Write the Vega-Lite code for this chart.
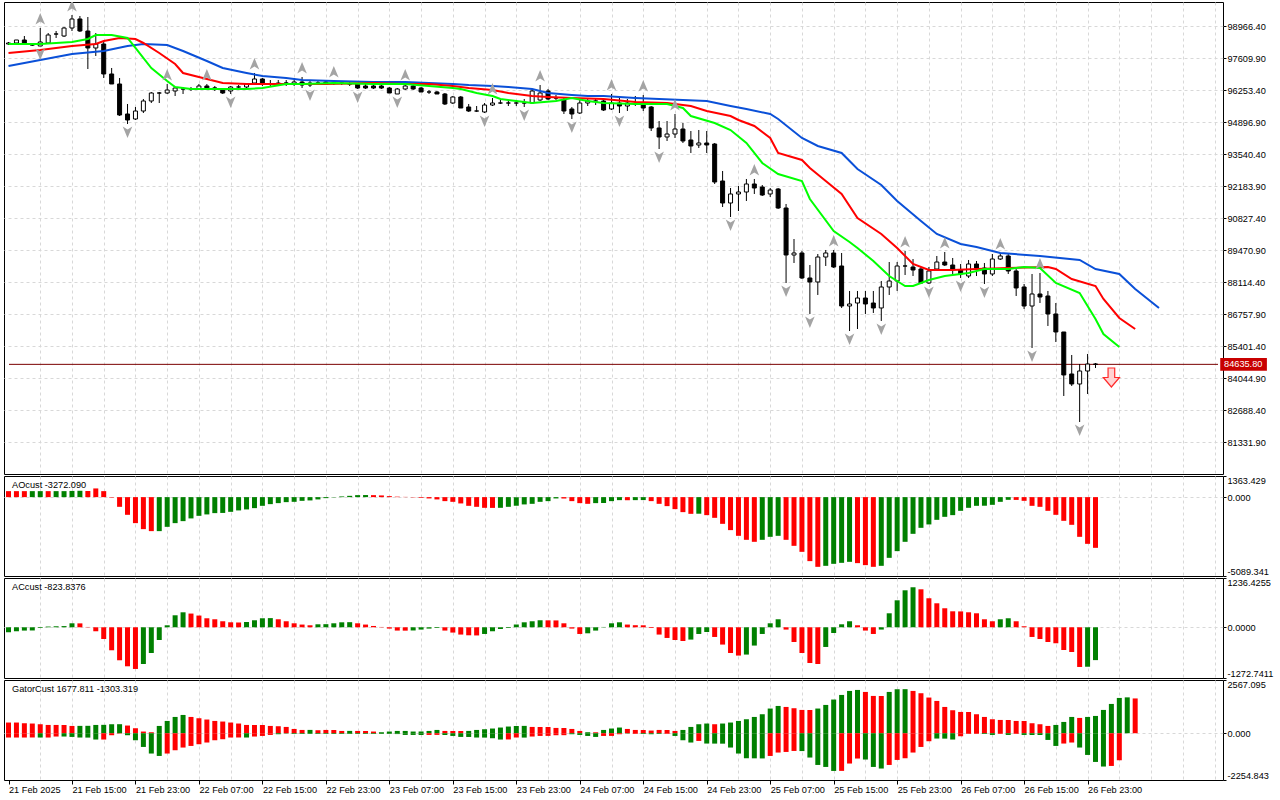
{
  "$schema": "https://vega.github.io/schema/vega-lite/v6.json",
  "background": "#ffffff",
  "padding": {"left": 3, "top": 1, "right": 0, "bottom": 0},
  "spacing": 2,
  "bounds": "flush",
  "resolve": {"scale": {"x": "independent", "y": "independent", "color": "independent"}},
  "datasets": {
    "candles": [
      {"k":0,"o":98215,"h":98300,"l":98173,"c":98258},{"k":1,"o":98258,"h":98385,"l":98215,"c":98385},
      {"k":2,"o":98385,"h":98554,"l":98215,"c":98215},{"k":3,"o":98173,"h":98215,"l":98130,"c":98173},
      {"k":4,"o":98130,"h":98893,"l":98130,"c":98300},{"k":5,"o":98258,"h":98681,"l":98215,"c":98597},
      {"k":6,"o":98639,"h":98766,"l":98470,"c":98639},{"k":7,"o":98554,"h":98936,"l":98512,"c":98893},
      {"k":8,"o":98893,"h":99444,"l":98766,"c":99275},{"k":9,"o":99275,"h":99402,"l":98724,"c":98766},
      {"k":10,"o":98766,"h":99360,"l":97155,"c":98046},{"k":11,"o":98046,"h":98681,"l":97707,"c":98215},
      {"k":12,"o":98215,"h":98342,"l":96774,"c":96944},{"k":13,"o":96944,"h":97198,"l":96520,"c":96520},
      {"k":14,"o":96520,"h":96774,"l":95163,"c":95206},{"k":15,"o":95248,"h":95672,"l":94824,"c":94994},
      {"k":16,"o":95036,"h":95545,"l":94994,"c":95375},{"k":17,"o":95375,"h":95884,"l":95290,"c":95799},
      {"k":18,"o":95799,"h":96181,"l":95714,"c":96138},{"k":19,"o":96138,"h":96181,"l":95714,"c":96138},
      {"k":20,"o":96138,"h":96520,"l":96096,"c":96265},{"k":21,"o":96223,"h":96393,"l":96011,"c":96350},
      {"k":22,"o":96308,"h":96393,"l":96096,"c":96308},{"k":23,"o":96308,"h":96393,"l":96223,"c":96308},
      {"k":24,"o":96308,"h":96520,"l":96265,"c":96435},{"k":25,"o":96435,"h":96520,"l":96265,"c":96308},
      {"k":26,"o":96350,"h":96435,"l":96223,"c":96350},{"k":27,"o":96308,"h":96350,"l":96096,"c":96138},
      {"k":28,"o":96223,"h":96435,"l":96096,"c":96393},{"k":29,"o":96393,"h":96477,"l":96350,"c":96393},
      {"k":30,"o":96393,"h":96562,"l":96350,"c":96520},{"k":31,"o":96562,"h":96986,"l":96520,"c":96732},
      {"k":32,"o":96732,"h":96774,"l":96435,"c":96520},{"k":33,"o":96520,"h":96689,"l":96393,"c":96520},
      {"k":34,"o":96520,"h":96689,"l":96435,"c":96562},{"k":35,"o":96562,"h":96689,"l":96435,"c":96562},
      {"k":36,"o":96520,"h":96689,"l":96435,"c":96605},{"k":37,"o":96605,"h":96816,"l":96350,"c":96477},
      {"k":38,"o":96477,"h":96689,"l":96393,"c":96562},{"k":39,"o":96562,"h":96647,"l":96477,"c":96562},
      {"k":40,"o":96605,"h":96647,"l":96477,"c":96562},{"k":41,"o":96562,"h":96647,"l":96477,"c":96562},
      {"k":42,"o":96562,"h":96647,"l":96477,"c":96562},{"k":43,"o":96520,"h":96605,"l":96435,"c":96520},
      {"k":44,"o":96520,"h":96540,"l":96308,"c":96350},{"k":45,"o":96435,"h":96520,"l":96308,"c":96350},
      {"k":46,"o":96435,"h":96477,"l":96308,"c":96350},{"k":47,"o":96435,"h":96477,"l":96308,"c":96350},
      {"k":48,"o":96350,"h":96393,"l":96138,"c":96138},{"k":49,"o":96096,"h":96350,"l":96096,"c":96308},
      {"k":50,"o":96308,"h":96520,"l":96265,"c":96435},{"k":51,"o":96435,"h":96520,"l":96265,"c":96308},
      {"k":52,"o":96350,"h":96393,"l":96181,"c":96181},{"k":53,"o":96181,"h":96265,"l":96096,"c":96181},
      {"k":54,"o":96181,"h":96223,"l":96096,"c":96096},{"k":55,"o":96096,"h":96138,"l":95629,"c":95672},
      {"k":56,"o":95714,"h":96011,"l":95672,"c":95969},{"k":57,"o":95969,"h":96011,"l":95502,"c":95502},
      {"k":58,"o":95545,"h":95672,"l":95333,"c":95375},{"k":59,"o":95375,"h":95587,"l":95333,"c":95375},
      {"k":60,"o":95333,"h":95714,"l":95290,"c":95629},{"k":61,"o":95629,"h":95926,"l":95587,"c":95714},
      {"k":62,"o":95714,"h":95841,"l":95672,"c":95714},{"k":63,"o":95714,"h":95799,"l":95587,"c":95714},
      {"k":64,"o":95714,"h":95799,"l":95587,"c":95714},{"k":65,"o":95714,"h":95884,"l":95545,"c":95714},
      {"k":66,"o":95714,"h":96308,"l":95672,"c":96223},{"k":67,"o":95841,"h":96477,"l":95799,"c":96138},
      {"k":68,"o":96223,"h":96308,"l":95841,"c":95884},{"k":69,"o":95926,"h":96053,"l":95841,"c":95926},
      {"k":70,"o":95841,"h":95926,"l":95248,"c":95375},{"k":71,"o":95460,"h":95545,"l":95036,"c":95248},
      {"k":72,"o":95290,"h":95926,"l":95248,"c":95714},{"k":73,"o":95714,"h":95884,"l":95587,"c":95799},
      {"k":74,"o":95799,"h":95884,"l":95629,"c":95799},{"k":75,"o":95799,"h":95884,"l":95375,"c":95417},
      {"k":76,"o":95460,"h":96096,"l":95417,"c":95714},{"k":77,"o":95714,"h":95926,"l":95290,"c":95587},
      {"k":78,"o":95587,"h":95884,"l":95375,"c":95714},{"k":79,"o":95672,"h":96011,"l":95587,"c":95672},
      {"k":80,"o":95714,"h":96053,"l":95375,"c":95502},{"k":81,"o":95545,"h":95587,"l":94527,"c":94655},
      {"k":82,"o":94655,"h":94951,"l":93764,"c":94273},{"k":83,"o":94273,"h":94951,"l":94104,"c":94400},
      {"k":84,"o":94400,"h":95248,"l":94231,"c":94612},{"k":85,"o":94612,"h":94866,"l":94019,"c":94104},
      {"k":86,"o":94146,"h":94527,"l":93595,"c":93891},{"k":87,"o":93934,"h":94570,"l":93807,"c":94019},
      {"k":88,"o":94019,"h":94527,"l":93595,"c":93934},{"k":89,"o":93976,"h":94019,"l":92281,"c":92366},
      {"k":90,"o":92408,"h":92832,"l":91305,"c":91475},{"k":91,"o":91475,"h":92111,"l":90882,"c":91857},
      {"k":92,"o":91857,"h":92196,"l":91136,"c":91941},{"k":93,"o":91941,"h":92493,"l":91560,"c":92281},
      {"k":94,"o":92281,"h":92493,"l":91857,"c":92111},{"k":95,"o":92153,"h":92238,"l":91772,"c":91814},
      {"k":96,"o":91857,"h":92111,"l":91730,"c":92026},{"k":97,"o":92069,"h":92111,"l":91221,"c":91263},
      {"k":98,"o":91263,"h":91433,"l":88084,"c":89271},{"k":99,"o":89271,"h":89949,"l":88932,"c":89356},
      {"k":100,"o":89356,"h":89441,"l":88254,"c":88296},{"k":101,"o":88296,"h":88847,"l":86771,"c":88127},
      {"k":102,"o":88127,"h":89313,"l":87576,"c":89186},{"k":103,"o":89186,"h":89483,"l":88805,"c":89356},
      {"k":104,"o":89356,"h":89483,"l":88720,"c":88762},{"k":105,"o":88805,"h":89356,"l":87025,"c":87109},
      {"k":106,"o":87109,"h":87746,"l":86049,"c":87194},{"k":107,"o":87236,"h":87746,"l":86134,"c":87448},
      {"k":108,"o":87448,"h":87746,"l":86771,"c":87194},{"k":109,"o":87236,"h":87746,"l":86813,"c":87025},
      {"k":110,"o":87025,"h":88169,"l":86474,"c":87915},{"k":111,"o":87915,"h":88974,"l":87576,"c":88169},
      {"k":112,"o":88169,"h":88974,"l":87746,"c":88805},{"k":113,"o":88805,"h":89441,"l":88423,"c":88805},
      {"k":114,"o":88762,"h":89101,"l":88381,"c":88635},{"k":115,"o":88677,"h":88762,"l":88042,"c":88084},
      {"k":116,"o":88084,"h":88762,"l":88042,"c":88593},{"k":117,"o":88677,"h":89229,"l":88593,"c":88974},
      {"k":118,"o":88974,"h":89399,"l":88805,"c":88847},{"k":119,"o":88847,"h":89144,"l":88466,"c":88677},
      {"k":120,"o":88635,"h":88890,"l":88296,"c":88466},{"k":121,"o":88381,"h":89059,"l":88296,"c":88890},
      {"k":122,"o":88890,"h":89017,"l":88381,"c":88720},{"k":123,"o":88720,"h":88932,"l":88042,"c":88466},
      {"k":124,"o":88466,"h":89313,"l":88381,"c":89101},{"k":125,"o":89101,"h":89356,"l":89059,"c":89229},
      {"k":126,"o":89229,"h":89313,"l":88466,"c":88593},{"k":127,"o":88593,"h":88677,"l":87533,"c":87873},
      {"k":128,"o":87915,"h":88042,"l":86982,"c":87109},{"k":129,"o":87109,"h":88466,"l":85329,"c":87618},
      {"k":130,"o":87618,"h":88508,"l":87236,"c":87491},{"k":131,"o":87533,"h":87746,"l":86262,"c":86771},
      {"k":132,"o":86771,"h":87236,"l":85583,"c":86007},{"k":133,"o":86007,"h":86007,"l":83294,"c":84185},
      {"k":134,"o":84227,"h":85032,"l":83718,"c":83803},{"k":135,"o":83803,"h":84650,"l":82192,"c":84354},
      {"k":136,"o":84354,"h":85075,"l":83379,"c":84650},{"k":137,"o":84650,"h":84693,"l":84481,"c":84636}
    ],
    "alligator": [
      {"k":0,"s":"jaw","v":97283},{"k":4,"s":"jaw","v":97537},{"k":8,"s":"jaw","v":97791},{"k":12,"s":"jaw","v":97918},
      {"k":15,"s":"jaw","v":98130},{"k":17,"s":"jaw","v":98215},{"k":20,"s":"jaw","v":98173},{"k":22,"s":"jaw","v":97918},
      {"k":25,"s":"jaw","v":97495},{"k":27,"s":"jaw","v":97198},{"k":30,"s":"jaw","v":96986},{"k":32,"s":"jaw","v":96859},
      {"k":35,"s":"jaw","v":96774},{"k":37,"s":"jaw","v":96689},{"k":41,"s":"jaw","v":96647},{"k":46,"s":"jaw","v":96605},
      {"k":50,"s":"jaw","v":96605},{"k":53,"s":"jaw","v":96562},{"k":56,"s":"jaw","v":96520},{"k":58,"s":"jaw","v":96477},
      {"k":61,"s":"jaw","v":96435},{"k":63,"s":"jaw","v":96393},{"k":66,"s":"jaw","v":96308},{"k":68,"s":"jaw","v":96138},
      {"k":71,"s":"jaw","v":96053},{"k":73,"s":"jaw","v":96011},{"k":75,"s":"jaw","v":96011},{"k":79,"s":"jaw","v":95926},
      {"k":85,"s":"jaw","v":95841},{"k":88,"s":"jaw","v":95799},{"k":91,"s":"jaw","v":95587},{"k":93,"s":"jaw","v":95460},
      {"k":96,"s":"jaw","v":95248},{"k":97,"s":"jaw","v":95036},{"k":100,"s":"jaw","v":94231},{"k":102,"s":"jaw","v":93891},
      {"k":105,"s":"jaw","v":93595},{"k":107,"s":"jaw","v":92917},{"k":110,"s":"jaw","v":92238},{"k":112,"s":"jaw","v":91560},
      {"k":115,"s":"jaw","v":90712},{"k":117,"s":"jaw","v":90161},{"k":120,"s":"jaw","v":89737},{"k":122,"s":"jaw","v":89610},
      {"k":125,"s":"jaw","v":89356},{"k":130,"s":"jaw","v":89229},{"k":135,"s":"jaw","v":89059},{"k":137,"s":"jaw","v":88677},
      {"k":140,"s":"jaw","v":88466},{"k":142,"s":"jaw","v":87830},{"k":145,"s":"jaw","v":87025},
      {"k":0,"s":"teeth","v":97834},{"k":4,"s":"teeth","v":97961},{"k":8,"s":"teeth","v":98130},{"k":11,"s":"teeth","v":98215},
      {"k":12,"s":"teeth","v":98342},{"k":14,"s":"teeth","v":98470},{"k":16,"s":"teeth","v":98427},{"k":17,"s":"teeth","v":98258},
      {"k":19,"s":"teeth","v":97834},{"k":21,"s":"teeth","v":97367},{"k":22,"s":"teeth","v":96986},{"k":25,"s":"teeth","v":96732},
      {"k":27,"s":"teeth","v":96562},{"k":30,"s":"teeth","v":96520},{"k":35,"s":"teeth","v":96520},{"k":40,"s":"teeth","v":96520},
      {"k":46,"s":"teeth","v":96562},{"k":50,"s":"teeth","v":96520},{"k":53,"s":"teeth","v":96520},{"k":56,"s":"teeth","v":96435},
      {"k":58,"s":"teeth","v":96350},{"k":61,"s":"teeth","v":96265},{"k":63,"s":"teeth","v":96138},{"k":66,"s":"teeth","v":96011},
      {"k":68,"s":"teeth","v":95969},{"k":71,"s":"teeth","v":95926},{"k":75,"s":"teeth","v":95884},{"k":79,"s":"teeth","v":95757},
      {"k":83,"s":"teeth","v":95714},{"k":86,"s":"teeth","v":95587},{"k":88,"s":"teeth","v":95375},{"k":91,"s":"teeth","v":95163},
      {"k":92,"s":"teeth","v":94994},{"k":94,"s":"teeth","v":94739},{"k":96,"s":"teeth","v":94231},{"k":97,"s":"teeth","v":93595},
      {"k":100,"s":"teeth","v":93298},{"k":101,"s":"teeth","v":92959},{"k":103,"s":"teeth","v":92408},{"k":105,"s":"teeth","v":91857},
      {"k":107,"s":"teeth","v":90839},{"k":110,"s":"teeth","v":90161},{"k":112,"s":"teeth","v":89568},{"k":114,"s":"teeth","v":88890},
      {"k":116,"s":"teeth","v":88635},{"k":119,"s":"teeth","v":88635},{"k":122,"s":"teeth","v":88677},{"k":126,"s":"teeth","v":88720},
      {"k":131,"s":"teeth","v":88762},{"k":132,"s":"teeth","v":88677},{"k":134,"s":"teeth","v":88254},{"k":137,"s":"teeth","v":87957},
      {"k":138,"s":"teeth","v":87406},{"k":140,"s":"teeth","v":86601},{"k":142,"s":"teeth","v":86134},
      {"k":0,"s":"lips","v":98215},{"k":4,"s":"lips","v":98215},{"k":8,"s":"lips","v":98300},{"k":10,"s":"lips","v":98427},
      {"k":11,"s":"lips","v":98597},{"k":13,"s":"lips","v":98597},{"k":15,"s":"lips","v":98470},{"k":16,"s":"lips","v":98046},
      {"k":18,"s":"lips","v":97198},{"k":20,"s":"lips","v":96647},{"k":21,"s":"lips","v":96393},{"k":23,"s":"lips","v":96308},
      {"k":26,"s":"lips","v":96308},{"k":30,"s":"lips","v":96308},{"k":32,"s":"lips","v":96350},{"k":35,"s":"lips","v":96520},
      {"k":37,"s":"lips","v":96520},{"k":41,"s":"lips","v":96562},{"k":46,"s":"lips","v":96520},{"k":50,"s":"lips","v":96520},
      {"k":53,"s":"lips","v":96435},{"k":56,"s":"lips","v":96350},{"k":57,"s":"lips","v":96308},{"k":59,"s":"lips","v":96138},
      {"k":61,"s":"lips","v":96011},{"k":62,"s":"lips","v":95884},{"k":64,"s":"lips","v":95799},{"k":66,"s":"lips","v":95714},
      {"k":69,"s":"lips","v":95799},{"k":71,"s":"lips","v":95926},{"k":73,"s":"lips","v":95799},{"k":75,"s":"lips","v":95714},
      {"k":79,"s":"lips","v":95672},{"k":83,"s":"lips","v":95672},{"k":85,"s":"lips","v":95502},{"k":86,"s":"lips","v":95163},
      {"k":89,"s":"lips","v":94866},{"k":91,"s":"lips","v":94570},{"k":93,"s":"lips","v":94019},{"k":95,"s":"lips","v":93171},
      {"k":97,"s":"lips","v":92705},{"k":100,"s":"lips","v":92408},{"k":101,"s":"lips","v":91645},{"k":104,"s":"lips","v":90288},
      {"k":106,"s":"lips","v":89822},{"k":107,"s":"lips","v":89568},{"k":109,"s":"lips","v":89017},{"k":111,"s":"lips","v":88381},
      {"k":113,"s":"lips","v":87957},{"k":114,"s":"lips","v":87957},{"k":116,"s":"lips","v":88211},{"k":118,"s":"lips","v":88381},
      {"k":121,"s":"lips","v":88508},{"k":123,"s":"lips","v":88677},{"k":126,"s":"lips","v":88677},{"k":128,"s":"lips","v":88762},
      {"k":130,"s":"lips","v":88720},{"k":132,"s":"lips","v":88084},{"k":135,"s":"lips","v":87661},{"k":137,"s":"lips","v":86558},
      {"k":138,"s":"lips","v":85922},{"k":140,"s":"lips","v":85371}
    ],
    "fractals": [
      {"k":4,"d":"up","v":98893},{"k":8,"d":"up","v":99444},{"k":20,"d":"up","v":96520},{"k":25,"d":"up","v":96520},
      {"k":31,"d":"up","v":96986},{"k":37,"d":"up","v":96816},{"k":41,"d":"up","v":96647},{"k":50,"d":"up","v":96520},
      {"k":61,"d":"up","v":95926},{"k":67,"d":"up","v":96477},{"k":76,"d":"up","v":96096},{"k":80,"d":"up","v":96053},
      {"k":84,"d":"up","v":95248},{"k":94,"d":"up","v":92493},{"k":104,"d":"up","v":89483},{"k":113,"d":"up","v":89441},
      {"k":118,"d":"up","v":89399},{"k":125,"d":"up","v":89356},{"k":130,"d":"up","v":88508},
      {"k":4,"d":"down","v":98130},{"k":15,"d":"down","v":94824},{"k":28,"d":"down","v":96096},{"k":38,"d":"down","v":96393},
      {"k":44,"d":"down","v":96308},{"k":49,"d":"down","v":96096},{"k":60,"d":"down","v":95290},{"k":65,"d":"down","v":95545},
      {"k":71,"d":"down","v":95036},{"k":77,"d":"down","v":95290},{"k":82,"d":"down","v":93764},{"k":91,"d":"down","v":90882},
      {"k":98,"d":"down","v":88084},{"k":101,"d":"down","v":86771},{"k":106,"d":"down","v":86049},{"k":110,"d":"down","v":86474},
      {"k":116,"d":"down","v":88042},{"k":120,"d":"down","v":88296},{"k":123,"d":"down","v":88042},{"k":129,"d":"down","v":85329},
      {"k":135,"d":"down","v":82192}
    ],
    "ao": [
      {"k":0,"v":387,"d":"down"},{"k":1,"v":387,"d":"down"},{"k":2,"v":387,"d":"down"},{"k":3,"v":387,"d":"up"},
      {"k":4,"v":387,"d":"up"},{"k":5,"v":387,"d":"down"},{"k":6,"v":387,"d":"up"},{"k":7,"v":387,"d":"up"},
      {"k":8,"v":400,"d":"up"},{"k":9,"v":410,"d":"up"},{"k":10,"v":395,"d":"down"},{"k":11,"v":561,"d":"down"},
      {"k":12,"v":387,"d":"down"},{"k":13,"v":-30,"d":"down"},{"k":14,"v":-626,"d":"down"},{"k":15,"v":-1142,"d":"down"},
      {"k":16,"v":-1678,"d":"down"},{"k":17,"v":-2065,"d":"down"},{"k":18,"v":-2194,"d":"down"},{"k":19,"v":-2194,"d":"up"},
      {"k":20,"v":-1917,"d":"up"},{"k":21,"v":-1678,"d":"up"},{"k":22,"v":-1549,"d":"up"},{"k":23,"v":-1374,"d":"up"},
      {"k":24,"v":-1207,"d":"up"},{"k":25,"v":-1116,"d":"up"},{"k":26,"v":-1032,"d":"up"},{"k":27,"v":-1020,"d":"up"},
      {"k":28,"v":-949,"d":"up"},{"k":29,"v":-858,"d":"up"},{"k":30,"v":-794,"d":"up"},{"k":31,"v":-710,"d":"up"},
      {"k":32,"v":-561,"d":"up"},{"k":33,"v":-452,"d":"up"},{"k":34,"v":-387,"d":"up"},{"k":35,"v":-323,"d":"up"},
      {"k":36,"v":-303,"d":"up"},{"k":37,"v":-239,"d":"up"},{"k":38,"v":-213,"d":"up"},{"k":39,"v":-148,"d":"up"},
      {"k":40,"v":-65,"d":"up"},{"k":41,"v":-19,"d":"up"},{"k":42,"v":45,"d":"up"},{"k":43,"v":84,"d":"up"},
      {"k":44,"v":129,"d":"up"},{"k":45,"v":135,"d":"up"},{"k":46,"v":129,"d":"down"},{"k":47,"v":110,"d":"down"},
      {"k":48,"v":65,"d":"down"},{"k":49,"v":30,"d":"down"},{"k":50,"v":15,"d":"down"},{"k":51,"v":-19,"d":"down"},
      {"k":52,"v":-45,"d":"down"},{"k":53,"v":-84,"d":"down"},{"k":54,"v":-148,"d":"down"},{"k":55,"v":-258,"d":"down"},
      {"k":56,"v":-303,"d":"down"},{"k":57,"v":-407,"d":"down"},{"k":58,"v":-561,"d":"down"},{"k":59,"v":-626,"d":"down"},
      {"k":60,"v":-690,"d":"down"},{"k":61,"v":-695,"d":"down"},{"k":62,"v":-690,"d":"up"},{"k":63,"v":-626,"d":"up"},
      {"k":64,"v":-561,"d":"up"},{"k":65,"v":-471,"d":"up"},{"k":66,"v":-432,"d":"up"},{"k":67,"v":-303,"d":"up"},
      {"k":68,"v":-258,"d":"up"},{"k":69,"v":-84,"d":"up"},{"k":70,"v":-90,"d":"down"},{"k":71,"v":-258,"d":"down"},
      {"k":72,"v":-387,"d":"down"},{"k":73,"v":-432,"d":"down"},{"k":74,"v":-387,"d":"up"},{"k":75,"v":-380,"d":"up"},
      {"k":76,"v":-258,"d":"up"},{"k":77,"v":-194,"d":"up"},{"k":78,"v":-200,"d":"down"},{"k":79,"v":-194,"d":"up"},
      {"k":80,"v":-190,"d":"up"},{"k":81,"v":-258,"d":"down"},{"k":82,"v":-432,"d":"down"},{"k":83,"v":-581,"d":"down"},
      {"k":84,"v":-774,"d":"down"},{"k":85,"v":-968,"d":"down"},{"k":86,"v":-1078,"d":"down"},{"k":87,"v":-1070,"d":"up"},
      {"k":88,"v":-1162,"d":"down"},{"k":89,"v":-1336,"d":"down"},{"k":90,"v":-1723,"d":"down"},{"k":91,"v":-2129,"d":"down"},
      {"k":92,"v":-2497,"d":"down"},{"k":93,"v":-2755,"d":"down"},{"k":94,"v":-2884,"d":"down"},{"k":95,"v":-2755,"d":"up"},
      {"k":96,"v":-2562,"d":"up"},{"k":97,"v":-2497,"d":"up"},{"k":98,"v":-2755,"d":"down"},{"k":99,"v":-3143,"d":"down"},
      {"k":100,"v":-3530,"d":"down"},{"k":101,"v":-4130,"d":"down"},{"k":102,"v":-4498,"d":"down"},{"k":103,"v":-4433,"d":"up"},
      {"k":104,"v":-4304,"d":"up"},{"k":105,"v":-4240,"d":"up"},{"k":106,"v":-4175,"d":"up"},{"k":107,"v":-4259,"d":"down"},
      {"k":108,"v":-4388,"d":"down"},{"k":109,"v":-4498,"d":"down"},{"k":110,"v":-4433,"d":"up"},{"k":111,"v":-3917,"d":"up"},
      {"k":112,"v":-3485,"d":"up"},{"k":113,"v":-2884,"d":"up"},{"k":114,"v":-2368,"d":"up"},{"k":115,"v":-1981,"d":"up"},
      {"k":116,"v":-1762,"d":"up"},{"k":117,"v":-1465,"d":"up"},{"k":118,"v":-1271,"d":"up"},{"k":119,"v":-1162,"d":"up"},
      {"k":120,"v":-884,"d":"up"},{"k":121,"v":-690,"d":"up"},{"k":122,"v":-561,"d":"up"},{"k":123,"v":-555,"d":"up"},
      {"k":124,"v":-497,"d":"up"},{"k":125,"v":-303,"d":"up"},{"k":126,"v":-174,"d":"up"},{"k":127,"v":-180,"d":"down"},
      {"k":128,"v":-239,"d":"down"},{"k":129,"v":-561,"d":"down"},{"k":130,"v":-626,"d":"down"},{"k":131,"v":-884,"d":"down"},
      {"k":132,"v":-1142,"d":"down"},{"k":133,"v":-1529,"d":"down"},{"k":134,"v":-1787,"d":"down"},{"k":135,"v":-2562,"d":"down"},
      {"k":136,"v":-3014,"d":"down"},{"k":137,"v":-3272,"d":"down"}
    ],
    "ac": [
      {"k":0,"v":-125,"d":"up"},{"k":1,"v":-100,"d":"up"},{"k":2,"v":-83,"d":"up"},{"k":3,"v":-80,"d":"up"},
      {"k":4,"v":-18,"d":"up"},{"k":5,"v":18,"d":"up"},{"k":6,"v":25,"d":"up"},{"k":7,"v":30,"d":"up"},
      {"k":8,"v":100,"d":"up"},{"k":9,"v":98,"d":"down"},{"k":10,"v":8,"d":"down"},{"k":11,"v":-100,"d":"down"},
      {"k":12,"v":-294,"d":"down"},{"k":13,"v":-577,"d":"down"},{"k":14,"v":-828,"d":"down"},{"k":15,"v":-979,"d":"down"},
      {"k":16,"v":-1046,"d":"down"},{"k":17,"v":-921,"d":"up"},{"k":18,"v":-645,"d":"up"},{"k":19,"v":-319,"d":"up"},
      {"k":20,"v":50,"d":"up"},{"k":21,"v":301,"d":"up"},{"k":22,"v":376,"d":"up"},{"k":23,"v":344,"d":"down"},
      {"k":24,"v":294,"d":"down"},{"k":25,"v":226,"d":"down"},{"k":26,"v":201,"d":"down"},{"k":27,"v":151,"d":"down"},
      {"k":28,"v":125,"d":"down"},{"k":29,"v":120,"d":"down"},{"k":30,"v":133,"d":"up"},{"k":31,"v":176,"d":"up"},
      {"k":32,"v":226,"d":"up"},{"k":33,"v":230,"d":"up"},{"k":34,"v":201,"d":"down"},{"k":35,"v":151,"d":"down"},
      {"k":36,"v":100,"d":"down"},{"k":37,"v":68,"d":"down"},{"k":38,"v":50,"d":"down"},{"k":39,"v":75,"d":"up"},
      {"k":40,"v":78,"d":"up"},{"k":41,"v":100,"d":"up"},{"k":42,"v":125,"d":"up"},{"k":43,"v":128,"d":"up"},
      {"k":44,"v":100,"d":"down"},{"k":45,"v":68,"d":"down"},{"k":46,"v":33,"d":"down"},{"k":47,"v":8,"d":"down"},
      {"k":48,"v":-33,"d":"down"},{"k":49,"v":-83,"d":"down"},{"k":50,"v":-85,"d":"down"},{"k":51,"v":-80,"d":"up"},
      {"k":52,"v":-58,"d":"up"},{"k":53,"v":-33,"d":"up"},{"k":54,"v":-18,"d":"up"},{"k":55,"v":-83,"d":"down"},
      {"k":56,"v":-133,"d":"down"},{"k":57,"v":-183,"d":"down"},{"k":58,"v":-201,"d":"down"},{"k":59,"v":-205,"d":"down"},
      {"k":60,"v":-168,"d":"up"},{"k":61,"v":-100,"d":"up"},{"k":62,"v":-43,"d":"up"},{"k":63,"v":-18,"d":"up"},
      {"k":64,"v":68,"d":"up"},{"k":65,"v":125,"d":"up"},{"k":66,"v":151,"d":"up"},{"k":67,"v":176,"d":"up"},
      {"k":68,"v":174,"d":"down"},{"k":69,"v":172,"d":"down"},{"k":70,"v":100,"d":"down"},{"k":71,"v":-33,"d":"down"},
      {"k":72,"v":-168,"d":"down"},{"k":73,"v":-151,"d":"up"},{"k":74,"v":-83,"d":"up"},{"k":75,"v":8,"d":"up"},
      {"k":76,"v":100,"d":"up"},{"k":77,"v":125,"d":"up"},{"k":78,"v":68,"d":"down"},{"k":79,"v":52,"d":"down"},
      {"k":80,"v":50,"d":"down"},{"k":81,"v":-18,"d":"down"},{"k":82,"v":-183,"d":"down"},{"k":83,"v":-268,"d":"down"},
      {"k":84,"v":-319,"d":"down"},{"k":85,"v":-344,"d":"down"},{"k":86,"v":-309,"d":"up"},{"k":87,"v":-168,"d":"up"},
      {"k":88,"v":-118,"d":"up"},{"k":89,"v":-243,"d":"down"},{"k":90,"v":-434,"d":"down"},{"k":91,"v":-645,"d":"down"},
      {"k":92,"v":-710,"d":"down"},{"k":93,"v":-685,"d":"up"},{"k":94,"v":-459,"d":"up"},{"k":95,"v":-168,"d":"up"},
      {"k":96,"v":100,"d":"up"},{"k":97,"v":201,"d":"up"},{"k":98,"v":-58,"d":"down"},{"k":99,"v":-369,"d":"down"},
      {"k":100,"v":-645,"d":"down"},{"k":101,"v":-896,"d":"down"},{"k":102,"v":-921,"d":"down"},{"k":103,"v":-494,"d":"up"},
      {"k":104,"v":-143,"d":"up"},{"k":105,"v":75,"d":"up"},{"k":106,"v":151,"d":"up"},{"k":107,"v":50,"d":"down"},
      {"k":108,"v":-83,"d":"down"},{"k":109,"v":-168,"d":"down"},{"k":110,"v":-58,"d":"up"},{"k":111,"v":351,"d":"up"},
      {"k":112,"v":677,"d":"up"},{"k":113,"v":928,"d":"up"},{"k":114,"v":1004,"d":"up"},{"k":115,"v":953,"d":"down"},
      {"k":116,"v":728,"d":"down"},{"k":117,"v":602,"d":"down"},{"k":118,"v":477,"d":"down"},{"k":119,"v":401,"d":"down"},
      {"k":120,"v":398,"d":"down"},{"k":121,"v":376,"d":"down"},{"k":122,"v":351,"d":"down"},{"k":123,"v":201,"d":"down"},
      {"k":124,"v":151,"d":"down"},{"k":125,"v":201,"d":"up"},{"k":126,"v":226,"d":"up"},{"k":127,"v":151,"d":"down"},
      {"k":128,"v":25,"d":"down"},{"k":129,"v":-243,"d":"down"},{"k":130,"v":-294,"d":"down"},{"k":131,"v":-369,"d":"down"},
      {"k":132,"v":-401,"d":"down"},{"k":133,"v":-570,"d":"down"},{"k":134,"v":-620,"d":"down"},{"k":135,"v":-996,"d":"down"},
      {"k":136,"v":-990,"d":"up"},{"k":137,"v":-824,"d":"up"}
    ],
    "gator": [
      {"k":0,"v":516,"d":"down"},{"k":0,"v":-207,"d":"down"},{"k":1,"v":516,"d":"down"},{"k":1,"v":-207,"d":"down"},
      {"k":2,"v":482,"d":"down"},{"k":2,"v":-207,"d":"down"},{"k":3,"v":468,"d":"down"},{"k":3,"v":-205,"d":"down"},
      {"k":4,"v":434,"d":"down"},{"k":4,"v":-207,"d":"up"},{"k":5,"v":400,"d":"down"},{"k":5,"v":-207,"d":"down"},
      {"k":6,"v":400,"d":"down"},{"k":6,"v":-159,"d":"down"},{"k":7,"v":398,"d":"down"},{"k":7,"v":-159,"d":"up"},
      {"k":8,"v":352,"d":"down"},{"k":8,"v":-178,"d":"up"},{"k":9,"v":355,"d":"up"},{"k":9,"v":-207,"d":"up"},
      {"k":10,"v":358,"d":"up"},{"k":10,"v":-210,"d":"up"},{"k":11,"v":400,"d":"up"},{"k":11,"v":-304,"d":"up"},
      {"k":12,"v":405,"d":"up"},{"k":12,"v":-304,"d":"down"},{"k":13,"v":434,"d":"up"},{"k":13,"v":-96,"d":"down"},
      {"k":14,"v":436,"d":"up"},{"k":14,"v":-15,"d":"down"},{"k":15,"v":371,"d":"down"},{"k":15,"v":-96,"d":"up"},
      {"k":16,"v":241,"d":"down"},{"k":16,"v":-338,"d":"up"},{"k":17,"v":82,"d":"down"},{"k":17,"v":-661,"d":"up"},
      {"k":18,"v":48,"d":"down"},{"k":18,"v":-979,"d":"up"},{"k":19,"v":352,"d":"up"},{"k":19,"v":-1095,"d":"up"},
      {"k":20,"v":593,"d":"up"},{"k":20,"v":-979,"d":"down"},{"k":21,"v":786,"d":"up"},{"k":21,"v":-820,"d":"down"},
      {"k":22,"v":882,"d":"up"},{"k":22,"v":-690,"d":"down"},{"k":23,"v":786,"d":"down"},{"k":23,"v":-612,"d":"down"},
      {"k":24,"v":723,"d":"down"},{"k":24,"v":-530,"d":"down"},{"k":25,"v":661,"d":"down"},{"k":25,"v":-448,"d":"down"},
      {"k":26,"v":593,"d":"down"},{"k":26,"v":-338,"d":"down"},{"k":27,"v":564,"d":"down"},{"k":27,"v":-289,"d":"down"},
      {"k":28,"v":516,"d":"down"},{"k":28,"v":-207,"d":"down"},{"k":29,"v":468,"d":"down"},{"k":29,"v":-205,"d":"down"},
      {"k":30,"v":400,"d":"down"},{"k":30,"v":-207,"d":"up"},{"k":31,"v":398,"d":"down"},{"k":31,"v":-159,"d":"down"},
      {"k":32,"v":396,"d":"down"},{"k":32,"v":-130,"d":"down"},{"k":33,"v":352,"d":"down"},{"k":33,"v":-82,"d":"down"},
      {"k":34,"v":338,"d":"down"},{"k":34,"v":-48,"d":"up"},{"k":35,"v":304,"d":"down"},{"k":35,"v":-15,"d":"up"},
      {"k":36,"v":207,"d":"down"},{"k":36,"v":-34,"d":"up"},{"k":37,"v":159,"d":"down"},{"k":37,"v":-34,"d":"up"},
      {"k":38,"v":161,"d":"up"},{"k":38,"v":-34,"d":"up"},{"k":39,"v":145,"d":"down"},{"k":39,"v":-34,"d":"up"},
      {"k":40,"v":159,"d":"down"},{"k":40,"v":-34,"d":"up"},{"k":41,"v":157,"d":"down"},{"k":41,"v":-34,"d":"up"},
      {"k":42,"v":111,"d":"down"},{"k":42,"v":-34,"d":"up"},{"k":43,"v":113,"d":"up"},{"k":43,"v":-34,"d":"up"},
      {"k":44,"v":111,"d":"down"},{"k":44,"v":-34,"d":"up"},{"k":45,"v":109,"d":"down"},{"k":45,"v":-34,"d":"up"},
      {"k":46,"v":82,"d":"down"},{"k":46,"v":-34,"d":"up"},{"k":47,"v":48,"d":"up"},{"k":47,"v":-34,"d":"up"},
      {"k":48,"v":82,"d":"up"},{"k":48,"v":-34,"d":"up"},{"k":49,"v":111,"d":"up"},{"k":49,"v":-40,"d":"up"},
      {"k":50,"v":111,"d":"up"},{"k":50,"v":-82,"d":"up"},{"k":51,"v":82,"d":"up"},{"k":51,"v":-82,"d":"up"},
      {"k":52,"v":84,"d":"up"},{"k":52,"v":-84,"d":"up"},{"k":53,"v":111,"d":"up"},{"k":53,"v":-82,"d":"down"},
      {"k":54,"v":159,"d":"up"},{"k":54,"v":-80,"d":"down"},{"k":55,"v":111,"d":"down"},{"k":55,"v":-84,"d":"up"},
      {"k":56,"v":109,"d":"down"},{"k":56,"v":-130,"d":"up"},{"k":57,"v":107,"d":"down"},{"k":57,"v":-178,"d":"up"},
      {"k":58,"v":113,"d":"up"},{"k":58,"v":-180,"d":"up"},{"k":59,"v":159,"d":"up"},{"k":59,"v":-207,"d":"up"},
      {"k":60,"v":193,"d":"up"},{"k":60,"v":-210,"d":"up"},{"k":61,"v":227,"d":"up"},{"k":61,"v":-241,"d":"up"},
      {"k":62,"v":275,"d":"up"},{"k":62,"v":-304,"d":"up"},{"k":63,"v":323,"d":"up"},{"k":63,"v":-300,"d":"down"},
      {"k":64,"v":352,"d":"up"},{"k":64,"v":-207,"d":"down"},{"k":65,"v":355,"d":"up"},{"k":65,"v":-210,"d":"up"},
      {"k":66,"v":304,"d":"down"},{"k":66,"v":-159,"d":"down"},{"k":67,"v":302,"d":"down"},{"k":67,"v":-130,"d":"down"},
      {"k":68,"v":300,"d":"down"},{"k":68,"v":-128,"d":"down"},{"k":69,"v":256,"d":"down"},{"k":69,"v":-96,"d":"down"},
      {"k":70,"v":254,"d":"down"},{"k":70,"v":-94,"d":"down"},{"k":71,"v":207,"d":"down"},{"k":71,"v":-48,"d":"up"},
      {"k":72,"v":111,"d":"down"},{"k":72,"v":-82,"d":"up"},{"k":73,"v":48,"d":"up"},{"k":73,"v":-130,"d":"up"},
      {"k":74,"v":46,"d":"down"},{"k":74,"v":-178,"d":"up"},{"k":75,"v":159,"d":"up"},{"k":75,"v":-130,"d":"down"},
      {"k":76,"v":227,"d":"up"},{"k":76,"v":-128,"d":"down"},{"k":77,"v":275,"d":"up"},{"k":77,"v":-48,"d":"down"},
      {"k":78,"v":207,"d":"down"},{"k":78,"v":-15,"d":"up"},{"k":79,"v":159,"d":"down"},{"k":79,"v":-34,"d":"down"},
      {"k":80,"v":157,"d":"down"},{"k":80,"v":-36,"d":"up"},{"k":81,"v":130,"d":"down"},{"k":81,"v":-48,"d":"up"},
      {"k":82,"v":159,"d":"down"},{"k":82,"v":-34,"d":"up"},{"k":83,"v":157,"d":"down"},{"k":83,"v":-32,"d":"down"},
      {"k":84,"v":111,"d":"down"},{"k":84,"v":-130,"d":"up"},{"k":85,"v":159,"d":"up"},{"k":85,"v":-338,"d":"up"},
      {"k":86,"v":304,"d":"up"},{"k":86,"v":-448,"d":"up"},{"k":87,"v":434,"d":"up"},{"k":87,"v":-371,"d":"down"},
      {"k":88,"v":468,"d":"up"},{"k":88,"v":-497,"d":"up"},{"k":89,"v":434,"d":"down"},{"k":89,"v":-500,"d":"up"},
      {"k":90,"v":468,"d":"up"},{"k":90,"v":-503,"d":"up"},{"k":91,"v":516,"d":"up"},{"k":91,"v":-690,"d":"up"},
      {"k":92,"v":593,"d":"up"},{"k":92,"v":-979,"d":"up"},{"k":93,"v":675,"d":"up"},{"k":93,"v":-1206,"d":"up"},
      {"k":94,"v":786,"d":"up"},{"k":94,"v":-1210,"d":"up"},{"k":95,"v":916,"d":"up"},{"k":95,"v":-1215,"d":"up"},
      {"k":96,"v":1191,"d":"up"},{"k":96,"v":-1095,"d":"down"},{"k":97,"v":1316,"d":"up"},{"k":97,"v":-931,"d":"down"},
      {"k":98,"v":1268,"d":"down"},{"k":98,"v":-902,"d":"down"},{"k":99,"v":1206,"d":"down"},{"k":99,"v":-854,"d":"down"},
      {"k":100,"v":1124,"d":"down"},{"k":100,"v":-860,"d":"up"},{"k":101,"v":1120,"d":"down"},{"k":101,"v":-1172,"d":"up"},
      {"k":102,"v":1191,"d":"up"},{"k":102,"v":-1529,"d":"up"},{"k":103,"v":1365,"d":"up"},{"k":103,"v":-1625,"d":"up"},
      {"k":104,"v":1625,"d":"up"},{"k":104,"v":-1818,"d":"up"},{"k":105,"v":1847,"d":"up"},{"k":105,"v":-1815,"d":"down"},
      {"k":106,"v":2040,"d":"up"},{"k":106,"v":-1461,"d":"down"},{"k":107,"v":2088,"d":"up"},{"k":107,"v":-1220,"d":"down"},
      {"k":108,"v":1992,"d":"down"},{"k":108,"v":-1268,"d":"up"},{"k":109,"v":1799,"d":"down"},{"k":109,"v":-1625,"d":"up"},
      {"k":110,"v":1795,"d":"down"},{"k":110,"v":-1702,"d":"up"},{"k":111,"v":1992,"d":"up"},{"k":111,"v":-1529,"d":"down"},
      {"k":112,"v":2122,"d":"up"},{"k":112,"v":-1287,"d":"down"},{"k":113,"v":2125,"d":"up"},{"k":113,"v":-1206,"d":"down"},
      {"k":114,"v":2040,"d":"down"},{"k":114,"v":-931,"d":"down"},{"k":115,"v":1929,"d":"down"},{"k":115,"v":-661,"d":"down"},
      {"k":116,"v":1721,"d":"down"},{"k":116,"v":-386,"d":"down"},{"k":117,"v":1558,"d":"down"},{"k":117,"v":-256,"d":"up"},
      {"k":118,"v":1268,"d":"down"},{"k":118,"v":-260,"d":"up"},{"k":119,"v":1109,"d":"down"},{"k":119,"v":-304,"d":"up"},
      {"k":120,"v":1027,"d":"down"},{"k":120,"v":-145,"d":"down"},{"k":121,"v":1025,"d":"down"},{"k":121,"v":-34,"d":"down"},
      {"k":122,"v":916,"d":"down"},{"k":122,"v":-32,"d":"down"},{"k":123,"v":786,"d":"down"},{"k":123,"v":-36,"d":"up"},
      {"k":124,"v":675,"d":"down"},{"k":124,"v":-82,"d":"up"},{"k":125,"v":641,"d":"down"},{"k":125,"v":-34,"d":"down"},
      {"k":126,"v":639,"d":"down"},{"k":126,"v":-82,"d":"up"},{"k":127,"v":593,"d":"down"},{"k":127,"v":-34,"d":"down"},
      {"k":128,"v":590,"d":"down"},{"k":128,"v":-82,"d":"up"},{"k":129,"v":482,"d":"down"},{"k":129,"v":-84,"d":"up"},
      {"k":130,"v":434,"d":"down"},{"k":130,"v":-86,"d":"up"},{"k":131,"v":352,"d":"down"},{"k":131,"v":-323,"d":"up"},
      {"k":132,"v":400,"d":"up"},{"k":132,"v":-612,"d":"up"},{"k":133,"v":545,"d":"up"},{"k":133,"v":-497,"d":"down"},
      {"k":134,"v":786,"d":"up"},{"k":134,"v":-448,"d":"down"},{"k":135,"v":738,"d":"down"},{"k":135,"v":-690,"d":"up"},
      {"k":136,"v":786,"d":"up"},{"k":136,"v":-1046,"d":"up"},{"k":137,"v":834,"d":"up"},{"k":137,"v":-1384,"d":"up"},
      {"k":138,"v":1124,"d":"up"},{"k":138,"v":-1606,"d":"up"},{"k":139,"v":1413,"d":"up"},{"k":139,"v":-1577,"d":"down"},
      {"k":140,"v":1702,"d":"up"},{"k":140,"v":-1303,"d":"down"},{"k":141,"v":1730,"d":"up"},{"k":142,"v":1678,"d":"down"}
    ]
  },
  "vconcat": [
    {
      "width": 1219,
      "height": 472,
      "layer": [
        {
          "data": {"values": [{}]},
          "mark": {"type": "rule", "color": "#7a0000", "strokeWidth": 1},
          "encoding": {
            "x": {"datum": 0.0625, "type": "quantitative", "title": null,
              "scale": {"domain": [0.0625, 152.4375], "nice": false, "zero": false},
              "axis": {"values": [0,4,8,12,16,20,24,28,32,36,40,44,48,52,56,60,64,68,72,76,80,84,88,92,96,100,104,108,112,116,120,124,128,132,136,140,144,148,152],
                "tickCount": 80, "labels": false, "ticks": false, "domain": false, "grid": true,
                "gridOpacity": {"condition": {"test": "datum.value == 0", "value": 0}, "value": 1}}},
            "x2": {"datum": 152.4375},
            "y": {"datum": 84635.8, "type": "quantitative", "title": null,
              "scale": {"domain": [79987.5, 99995.6], "nice": false, "zero": false},
              "axis": {"orient": "right", "values": [81331.9,82688.4,84044.9,85401.4,86757.9,88114.4,89470.9,90827.4,92183.9,93540.4,94896.9,96253.4,97609.9,98966.4],
                "tickCount": 40, "format": ".2f", "grid": true, "domain": false, "tickSize": 3, "labelPadding": 1, "labelOverlap": false, "labelBound": false}}
          }
        },
        {
          "data": {"name": "candles"},
          "mark": {"type": "rule", "color": "#000000", "strokeWidth": 1, "clip": true},
          "encoding": {
            "x": {"field": "k", "type": "quantitative", "title": null},
            "y": {"field": "l", "type": "quantitative", "title": null},
            "y2": {"field": "h"}
          }
        },
        {
          "data": {"name": "candles"},
          "mark": {"type": "bar", "width": 4, "stroke": "#000000", "strokeWidth": 1, "clip": true},
          "encoding": {
            "x": {"field": "k", "type": "quantitative", "title": null},
            "y": {"field": "o", "type": "quantitative", "title": null},
            "y2": {"field": "c"},
            "fill": {"condition": {"test": "datum.c >= datum.o", "value": "#ffffff"}, "value": "#000000"}
          }
        },
        {
          "data": {"name": "alligator"},
          "mark": {"type": "line", "strokeWidth": 2, "clip": true},
          "encoding": {
            "x": {"field": "k", "type": "quantitative", "title": null},
            "y": {"field": "v", "type": "quantitative", "title": null},
            "color": {"field": "s", "type": "nominal", "legend": null,
              "scale": {"domain": ["jaw", "teeth", "lips"], "range": ["#0a50d8", "#ff0000", "#00ff00"]}}
          }
        },
        {
          "data": {"name": "fractals"},
          "transform": [{"filter": "datum.d == 'up'"}],
          "mark": {"type": "point", "filled": true, "color": "#a4a4a4", "opacity": 1, "size": 144, "yOffset": -9, "clip": true,
            "shape": "M0,-1L0.8,0.9L0,0.4L-0.8,0.9Z"},
          "encoding": {
            "x": {"field": "k", "type": "quantitative", "title": null},
            "y": {"field": "v", "type": "quantitative", "title": null}
          }
        },
        {
          "data": {"name": "fractals"},
          "transform": [{"filter": "datum.d == 'down'"}],
          "mark": {"type": "point", "filled": true, "color": "#a4a4a4", "opacity": 1, "size": 144, "yOffset": 8, "clip": true,
            "shape": "M0,1L0.8,-0.9L0,-0.4L-0.8,-0.9Z"},
          "encoding": {
            "x": {"field": "k", "type": "quantitative", "title": null},
            "y": {"field": "v", "type": "quantitative", "title": null}
          }
        },
        {
          "data": {"values": [{}]},
          "mark": {"type": "point", "filled": true, "fill": "#ffd4d4", "stroke": "#ff2a2a", "strokeWidth": 1.2, "opacity": 1, "size": 361,
            "shape": "M-0.35,-1L0.35,-1L0.35,0L0.85,0L0,1L-0.85,0L-0.35,0Z"},
          "encoding": {"x": {"datum": 139}, "y": {"datum": 84078}}
        },
        {
          "data": {"values": [{}]},
          "mark": {"type": "rect", "color": "#c80000"},
          "encoding": {"x": {"datum": 152.72}, "x2": {"datum": 158.6}, "y": {"datum": 84910}, "y2": {"datum": 84365}}
        },
        {
          "data": {"values": [{}]},
          "mark": {"type": "text", "align": "left", "baseline": "middle", "color": "#ffffff", "fontSize": 9.2},
          "encoding": {"x": {"datum": 153.2}, "y": {"datum": 84635.8}, "text": {"value": "84635.80"}}
        }
      ]
    },
    {
      "width": 1219,
      "height": 100,
      "layer": [
        {
          "data": {"name": "ao"},
          "mark": {"type": "bar", "width": 5, "clip": true},
          "encoding": {
            "x": {"field": "k", "type": "quantitative", "title": null,
              "scale": {"domain": [0.0625, 152.4375], "nice": false, "zero": false},
              "axis": {"values": [0,4,8,12,16,20,24,28,32,36,40,44,48,52,56,60,64,68,72,76,80,84,88,92,96,100,104,108,112,116,120,124,128,132,136,140,144,148,152],
                "tickCount": 80, "labels": false, "ticks": false, "domain": false, "grid": true,
                "gridOpacity": {"condition": {"test": "datum.value == 0", "value": 0}, "value": 1}}},
            "y": {"field": "v", "type": "quantitative", "title": null,
              "scale": {"domain": [-5089.341, 1363.429], "nice": false, "zero": false},
              "axis": {"orient": "right", "values": [-5089.341, 0, 1363.429], "tickCount": 10, "format": ".3f", "labelFlush": true,
                "grid": true, "gridOpacity": {"condition": {"test": "datum.value == 0", "value": 1}, "value": 0},
                "domain": false, "tickSize": 3, "labelPadding": 1}},
            "y2": {"datum": 0},
            "color": {"field": "d", "type": "nominal", "legend": null,
              "scale": {"domain": ["up", "down"], "range": ["#008000", "#ff0000"]}}
          }
        },
        {
          "data": {"values": [{}]},
          "mark": {"type": "text", "align": "left", "baseline": "top", "dy": 5, "color": "#000000", "fontSize": 9.2},
          "encoding": {"x": {"datum": 0.45}, "y": {"datum": 1363.429}, "text": {"value": "AOcust -3272.090"}}
        }
      ]
    },
    {
      "width": 1219,
      "height": 100,
      "layer": [
        {
          "data": {"name": "ac"},
          "mark": {"type": "bar", "width": 5, "clip": true},
          "encoding": {
            "x": {"field": "k", "type": "quantitative", "title": null,
              "scale": {"domain": [0.0625, 152.4375], "nice": false, "zero": false},
              "axis": {"values": [0,4,8,12,16,20,24,28,32,36,40,44,48,52,56,60,64,68,72,76,80,84,88,92,96,100,104,108,112,116,120,124,128,132,136,140,144,148,152],
                "tickCount": 80, "labels": false, "ticks": false, "domain": false, "grid": true,
                "gridOpacity": {"condition": {"test": "datum.value == 0", "value": 0}, "value": 1}}},
            "y": {"field": "v", "type": "quantitative", "title": null,
              "scale": {"domain": [-1272.7411, 1236.4255], "nice": false, "zero": false},
              "axis": {"orient": "right", "values": [-1272.7411, 0, 1236.4255], "tickCount": 10, "format": ".4f", "labelFlush": true,
                "grid": true, "gridOpacity": {"condition": {"test": "datum.value == 0", "value": 1}, "value": 0},
                "domain": false, "tickSize": 3, "labelPadding": 1}},
            "y2": {"datum": 0},
            "color": {"field": "d", "type": "nominal", "legend": null,
              "scale": {"domain": ["up", "down"], "range": ["#008000", "#ff0000"]}}
          }
        },
        {
          "data": {"values": [{}]},
          "mark": {"type": "text", "align": "left", "baseline": "top", "dy": 5, "color": "#000000", "fontSize": 9.2},
          "encoding": {"x": {"datum": 0.45}, "y": {"datum": 1236.4255}, "text": {"value": "ACcust -823.8376"}}
        }
      ]
    },
    {
      "width": 1219,
      "height": 100,
      "layer": [
        {
          "data": {"name": "gator"},
          "mark": {"type": "bar", "width": 5, "clip": true},
          "encoding": {
            "x": {"field": "k", "type": "quantitative", "title": null,
              "scale": {"domain": [0.0625, 152.4375], "nice": false, "zero": false},
              "axis": {"values": [0,4,8,12,16,20,24,28,32,36,40,44,48,52,56,60,64,68,72,76,80,84,88,92,96,100,104,108,112,116,120,124,128,132,136,140,144,148,152],
                "tickCount": 80, "domain": false, "grid": true,
                "gridOpacity": {"condition": {"test": "datum.value == 0", "value": 0}, "value": 1},
                "ticks": true, "tickSize": 4,
                "tickOpacity": {"condition": {"test": "datum.value % 8 == 0 && datum.value <= 136", "value": 1}, "value": 0},
                "labels": true, "labelAlign": "left", "labelBaseline": "top", "labelPadding": 1, "labelOffset": 0,
                "labelFlush": false, "labelOverlap": false, "labelBound": false,
                "labelExpr": "datum.value % 8 == 0 && datum.value <= 136 ? (datum.value == 0 ? '21 Feb 2025' : timeFormat(datetime(2025, 1, 21, 7 + datum.value), '%d %b %H:%M')) : ''"}},
            "y": {"field": "v", "type": "quantitative", "title": null,
              "scale": {"domain": [-2254.843, 2567.095], "nice": false, "zero": false},
              "axis": {"orient": "right", "values": [-2254.843, 0, 2567.095], "tickCount": 10, "format": ".3f", "labelFlush": true,
                "grid": true, "gridOpacity": {"condition": {"test": "datum.value == 0", "value": 1}, "value": 0},
                "domain": false, "tickSize": 3, "labelPadding": 1}},
            "y2": {"datum": 0},
            "color": {"field": "d", "type": "nominal", "legend": null,
              "scale": {"domain": ["up", "down"], "range": ["#008000", "#ff0000"]}}
          }
        },
        {
          "data": {"values": [{}]},
          "mark": {"type": "text", "align": "left", "baseline": "top", "dy": 5, "color": "#000000", "fontSize": 9.2},
          "encoding": {"x": {"datum": 0.45}, "y": {"datum": 2567.095}, "text": {"value": "GatorCust 1677.811 -1303.319"}}
        }
      ]
    }
  ],
  "config": {
    "view": {"stroke": "#000000", "strokeWidth": 1, "fill": "#ffffff"},
    "font": "Liberation Sans",
    "locale": {"number": {"decimal": ".", "thousands": ",", "grouping": [3], "currency": ["", ""], "minus": "-"}},
    "axis": {"labelFont": "Liberation Sans", "labelFontSize": 9.2, "labelColor": "#000000",
      "gridColor": "#d8d8d8", "gridDash": [3, 3], "gridWidth": 1, "tickColor": "#000000", "domain": false},
    "text": {"font": "Liberation Sans"}
  }
}
